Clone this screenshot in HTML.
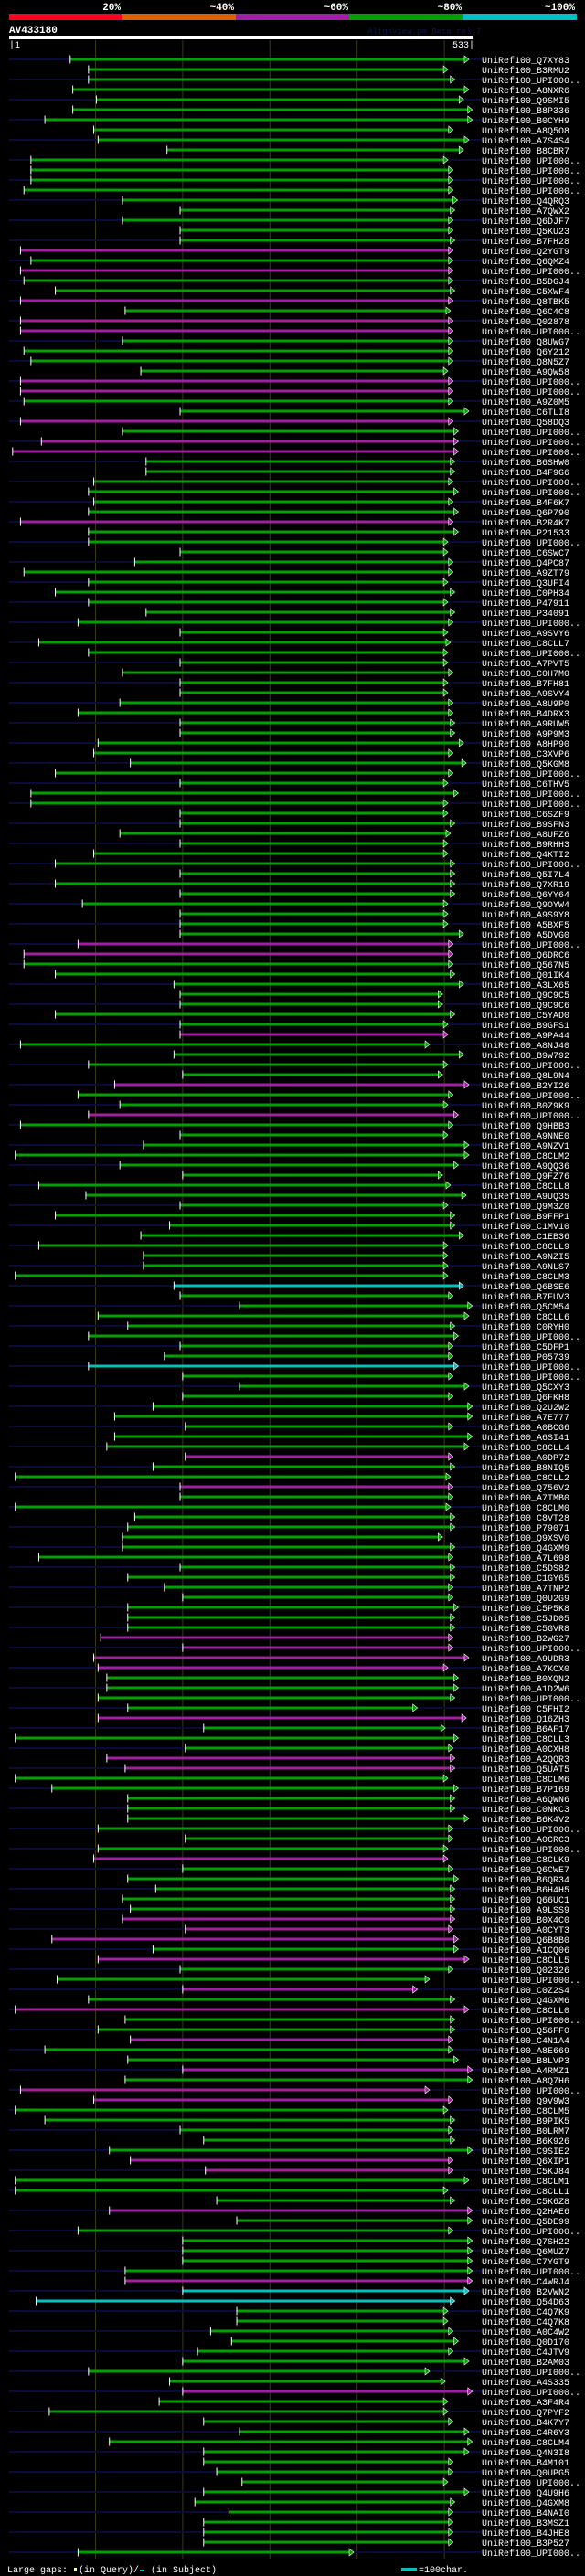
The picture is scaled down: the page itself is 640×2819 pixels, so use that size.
<!DOCTYPE html>
<html><head><meta charset="utf-8"><style>
html,body{margin:0;padding:0;background:#000;}
body{width:640px;height:2819px;overflow:hidden;position:relative;font-family:"Liberation Mono",monospace;}
svg{position:absolute;left:0;top:0;}
</style></head><body>
<svg id="chart" width="640" height="2819" viewBox="0 0 640 2819" xmlns="http://www.w3.org/2000/svg">
<g font-family="Liberation Mono, monospace" font-weight="bold" font-size="11" fill="#fff" text-anchor="end">
<rect x="10" y="15" width="124" height="7" fill="#ff0020"/>
<rect x="134" y="15" width="124" height="7" fill="#e06000"/>
<rect x="258" y="15" width="124" height="7" fill="#a020a0"/>
<rect x="382" y="15" width="124" height="7" fill="#00a000"/>
<rect x="506" y="15" width="125" height="7" fill="#00c0c0"/>
<text x="132" y="11">20%</text>
<text x="256" y="11">~40%</text>
<text x="381" y="11">~60%</text>
<text x="505" y="11">~80%</text>
<text x="629" y="11">~100%</text>
</g>
<text x="10" y="36" font-family="Liberation Mono, monospace" font-weight="bold" font-size="11" fill="#fff">AV433180</text>
<text x="402" y="37" font-family="Liberation Mono, monospace" font-size="9" fill="#141448">AlignView.pm Beta rel.7</text>
<rect x="10" y="39" width="508" height="4" fill="#fff"/>
<text x="10" y="52" font-family="Liberation Mono, monospace" font-size="10" fill="#fff">|1</text>
<text x="519" y="52" text-anchor="end" font-family="Liberation Mono, monospace" font-size="10" fill="#fff">533|</text>
<g id="grid"></g>
<g id="rows"></g>
<g font-family="Liberation Mono, monospace" font-size="10" fill="#fff">
<text x="8" y="2815">Large gaps:</text>
<rect x="81" y="2810" width="3" height="4" fill="#ffff80"/>
<text x="86" y="2815">(in Query)/</text>
<rect x="153" y="2812" width="5" height="2" fill="#00c0c0"/>
<text x="165" y="2815">(in Subject)</text>
<rect x="439" y="2810" width="17" height="3" fill="#00c0c0"/>
<text x="458" y="2815">=100char.</text>
</g>
</svg>
<script>
const starts=[71,92,92,74,101,74,42,98,103,182,26,26,26,18,131,197,131,197,197,14,26,14,18,54,14,134,14,14,131,18,26,
152,14,14,18,197,14,131,38,5,158,158,98,92,98,92,14,92,92,197,145,18,92,54,92,158,80,197,35,92,197,131,197,
197,128,80,197,197,103,98,140,54,197,26,26,197,197,128,197,98,54,197,54,197,85,197,197,197,80,18,18,54,190,197,197,
54,197,197,14,190,92,200,122,80,128,92,14,197,155,8,128,200,35,89,197,54,185,152,35,155,155,8,190,197,265,103,137,
92,197,179,92,200,265,200,166,122,203,122,113,203,166,8,197,197,8,145,137,131,131,35,197,137,179,200,137,137,137,106,200,
98,103,113,113,103,137,103,224,8,203,113,134,8,50,137,137,137,103,203,103,98,200,137,169,131,140,131,203,50,166,103,197,
56,200,92,8,134,103,140,42,137,200,134,14,98,8,42,197,224,116,140,226,8,8,239,116,262,80,200,200,200,134,134,200,
32,262,262,232,256,217,200,92,185,200,173,47,224,265,116,224,224,239,268,224,214,253,224,224,224,80];
const ends=[525,501,509,525,519,529,529,507,525,519,501,507,507,507,512,509,507,507,509,507,507,507,507,509,507,504,507,507,507,507,507,
501,507,507,507,525,507,513,513,513,509,509,507,513,507,513,507,513,501,501,507,507,501,509,501,509,507,501,504,501,501,507,501,
501,507,507,509,509,519,507,522,507,501,513,501,501,509,504,501,501,509,509,509,509,501,501,501,519,507,507,507,509,519,495,495,
509,501,501,480,519,501,495,525,507,501,513,507,501,525,525,513,495,504,522,501,509,509,519,501,501,501,501,519,507,529,525,509,
513,507,507,513,507,525,507,529,529,507,529,525,507,509,504,507,507,504,509,509,495,509,507,509,509,507,507,513,509,509,507,507,
525,501,513,513,509,466,522,498,513,507,509,509,501,513,509,509,525,507,507,501,501,507,513,509,509,509,509,507,513,513,525,507,
480,466,509,525,509,509,507,507,513,529,529,480,507,501,509,507,509,529,507,507,525,501,509,529,529,507,529,529,529,529,529,525,
509,501,501,507,513,507,525,480,498,529,501,501,507,525,529,525,507,507,501,525,509,507,507,507,507,393];
const kinds="GGGGGGGGGGGGGGGGGGGMGMGGMGMMGGG"+"GMMGGMGMMGGGGGGMGGGGGGGGGGGGGGG"+"GGGGGGGGGGGGGGGGGGGGGGGGGGMMGGGG"+"GGGMGGGGMGGMGGGGGGGGGGGGGGGGCGG"+"GGGGGCGGGGGGGGMGGMGGGGGGGGGGGGGG"+"MMMMGGGGMGGGMMGGGGGGGGMGGGGGMMMG"+"MGGMGMGGMGGMGMMGGGGGMMGGGMGGGGGG"+"MCCGGGGGGGGMGGGGGGGGGGGGGG";
const labels=["Q7XY83","B3RMU2","UPI000..","A8NXR6","Q9SMI5","B8P336","B0CYH9","A8Q5O8","A7S4S4","B8CBR7","UPI000..","UPI000..","UPI000..","UPI000..","Q4QRQ3","A7QWX2","Q6DJF7","Q5KU23","B7FH28","Q2YGT9","Q6QMZ4","UPI000..","B5DGJ4","C5XWF4","Q8TBK5","Q6C4C8","Q02878","UPI000..","Q8UWG7","Q6Y212","Q8N5Z7",
"A9QW58","UPI000..","UPI000..","A9Z0M5","C6TLI8","Q58DQ3","UPI000..","UPI000..","UPI000..","B6SHW0","B4F9G6","UPI000..","UPI000..","B4F6K7","Q6P790","B2R4K7","P21533","UPI000..","C6SWC7","Q4PC87","A9ZT79","Q3UFI4","C0PH34","P47911","P34091","UPI000..","A9SVY6","C8CLL7","UPI000..","A7PVT5","C0H7M0","B7FH81",
"A9SVY4","A8U9P0","B4DRX3","A9RUW5","A9P9M3","A8HP90","C3XVP6","Q5KGM8","UPI000..","C6THV5","UPI000..","UPI000..","C6SZF9","B9SFN3","A8UFZ6","B9RHH3","Q4KTI2","UPI000..","Q5I7L4","Q7XR19","Q6YY64","Q9OYW4","A9S9Y8","A5BXF5","A5DVG0","UPI000..","Q6DRC6","Q567N5","Q01IK4","A3LX65","Q9C9C5","Q9C9C6",
"C5YAD0","B9GFS1","A9PA44","A8NJ40","B9W792","UPI000..","Q8L9N4","B2YI26","UPI000..","B0Z9K9","UPI000..","Q9HBB3","A9NNE0","A9NZV1","C8CLM2","A9QQ36","Q9FZ76","C8CLL8","A9UQ35","Q9M3Z0","B9FFP1","C1MV10","C1EB36","C8CLL9","A9NZI5","A9NLS7","C8CLM3","Q6BSE6","B7FUV3","Q5CM54","C8CLL6","C0RYH0",
"UPI000..","C5DFP1","P05739","UPI000..","UPI000..","Q5CXY3","Q6FKH8","Q2U2W2","A7E777","A0BCG6","A6SI41","C8CLL4","A0DP72","B8NIQ5","C8CLL2","Q756V2","A7TMB0","C8CLM0","C8VT28","P79071","Q9XSV0","Q4GXM9","A7L698","C5DS82","C1GY65","A7TNP2","Q0U2G9","C5P5K8","C5JD05","C5GVR8","B2WG27","UPI000..",
"A9UDR3","A7KCX0","B0XQN2","A1D2W6","UPI000..","C5FHI2","Q16ZH3","B6AF17","C8CLL3","A0CXH8","A2QQR3","Q5UAT5","C8CLM6","B7P169","A6QWN6","C0NKC3","B6K4V2","UPI000..","A0CRC3","UPI000..","C8CLK9","Q6CWE7","B6QR34","B6H4H5","Q66UC1","A9LSS9","B0X4C0","A0CYT3","Q6B8B0","A1CQ06","C8CLL5","Q02326",
"UPI000..","C0Z2S4","Q4GXM6","C8CLL0","UPI000..","Q56FF0","C4N1A4","A8E669","B8LVP3","A4RMZ1","A8Q7H6","UPI000..","Q9V9W3","C8CLM5","B9PIK5","B0LRM7","B6K926","C9SIE2","Q6XIP1","C5KJ84","C8CLM1","C8CLL1","C5K6Z8","Q2HAE6","Q5DE99","UPI000..","Q7SH22","Q6MUZ7","C7YGT9","UPI000..","C4WRJ4","B2VWN2",
"Q54D63","C4Q7K9","C4Q7K8","A0C4W2","Q0D170","C4JTV9","B2AM03","UPI000..","A4S335","UPI000..","A3F4R4","Q7PYF2","B4K7Y7","C4R6Y3","C8CLM4","Q4N3I8","B4M101","Q0UPG5","UPI000..","Q4U9H6","Q4GXM8","B4NAI0","B3MSZ1","B4JHE8","B3P527","UPI000.."];
const gridTicks=[100,200,300,400,500];

const NS="http://www.w3.org/2000/svg";
const QLEN=533;
function xScale(r){return 10+(r-1)*(507.6/(QLEN-1));}
function yScale(i){return 65+i*11;}
const colorMap={G:"#00a000",M:"#a020a0",C:"#00c0c0"};
function mk(tag,attrs){const e=document.createElementNS(NS,tag);for(const k in attrs)e.setAttribute(k,attrs[k]);return e;}

const grid=document.getElementById('grid');
gridTicks.forEach(t=>{
  const l=mk('line',{x1:xScale(t),x2:xScale(t),y1:44,y2:2800,stroke:"#3a3a12","stroke-width":1});
  
  
  grid.appendChild(l);
});

const rows=document.getElementById('rows');
for(let i=0;i<starts.length;i++){
  const y=yScale(i);
  const g=mk('g',{});
  
  
  if(i%2===0){
    const bg=mk('rect',{x:10,y:y-1,width:517,height:2,fill:"#0b0b38"});
    
    
    g.appendChild(bg);
  }
  const x1=xScale(starts[i]),x2=xScale(ends[i]);
  const col=colorMap[kinds[i]]||colorMap.G;
  const bar=mk('rect',{x:x1,y:y-1.5,width:Math.max(0,x2-x1-2),height:3,fill:col});
  
  
  g.appendChild(bar);
  const tick=mk('rect',{x:x1-0.5,y:y-4.5,width:1,height:9,fill:"#fff"});
  
  
  g.appendChild(tick);
  const ax=x2-2;
  const arr=mk('polygon',{points:(ax)+","+(y-4)+" "+(ax+5)+","+y+" "+(ax)+","+(y+4),fill:col,stroke:"#fff","stroke-width":0.6});
  
  
  g.appendChild(arr);
  const t=mk('text',{x:527,y:y+4,"font-family":"Liberation Mono, monospace","font-size":10,fill:"#fff"});
  t.textContent="UniRef100_"+labels[i];
  
  
  g.appendChild(t);
  rows.appendChild(g);
}
</script>
</body></html>
